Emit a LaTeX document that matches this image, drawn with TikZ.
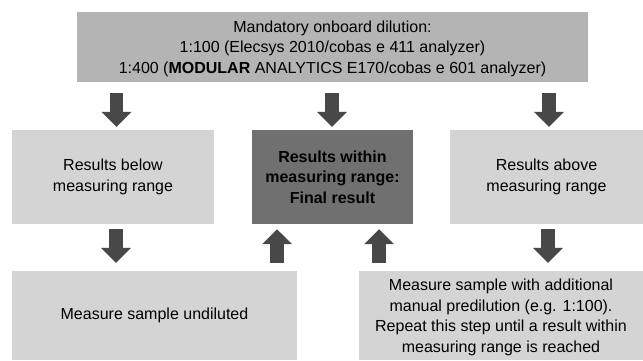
\documentclass[tikz,border=0pt]{standalone}
\usepackage{fontspec}
\setmainfont{Liberation Sans}
\usetikzlibrary{arrows.meta}
\definecolor{topgray}{HTML}{B4B4B4}
\definecolor{lightbox}{HTML}{D4D4D4}
\definecolor{darkbox}{HTML}{707070}
\definecolor{arrowgray}{HTML}{484848}
\begin{document}
\begin{tikzpicture}[x=1pt,y=-1pt,
  box/.style={fill=lightbox, draw=none, align=center, inner sep=0pt,
    font=\fontsize{16}{20.5}\selectfont, text=black},
  fat/.style={draw=arrowgray, line width=13.5pt,
    -{Triangle[width=29pt,length=15pt]}}]
\useasboundingbox (0,0) rectangle (643,360);
\fill[white] (0,0) rectangle (643,360);
% boxes
\node[box, fill=topgray, minimum width=511pt, minimum height=70pt, text depth=0pt] (top) at (332.5,47)
  {Mandatory onboard dilution:\\1:100 (Elecsys 2010/cobas e 411 analyzer)\\1:400 (\textbf{MODULAR} ANALYTICS E170/cobas e 601 analyzer)};
\node[box, minimum width=202pt, minimum height=94pt] (below) at (113,177)
  {Results below\\measuring range};
\node[box, fill=darkbox, minimum width=161pt, minimum height=94pt] (within) at (332.5,177)
  {\bfseries Results within\\\bfseries measuring range:\\\bfseries Final result};
\node[box, minimum width=193pt, minimum height=94pt] (above) at (546.5,177)
  {Results above\\measuring range};
\node[box, minimum width=285pt, minimum height=89pt] (undil) at (154.5,315.5)
  {Measure sample undiluted};
\node[box, minimum width=284pt, minimum height=89pt, text depth=0pt] (predil) at (501,315.5)
  {Measure sample with additional\\manual predilution (e.g. 1:100).\\Repeat this step until a result within\\measuring range is reached};
% arrow x positions
\coordinate (c1) at (116.5,0);
\coordinate (c2) at (332,0);
\coordinate (c3) at (549,0);
\coordinate (c4) at (116,0);
\coordinate (c5) at (277,0);
\coordinate (c6) at (379,0);
\coordinate (c7) at (548,0);
% connectors
\draw[fat, shorten <=11pt, shorten >=3pt] (top.south -| c1) -- (below.north -| c1);
\draw[fat, shorten <=11pt, shorten >=3pt] (top.south -| c2) -- (within.north -| c2);
\draw[fat, shorten <=11pt, shorten >=3pt] (top.south -| c3) -- (above.north -| c3);
\draw[fat, shorten <=5pt, shorten >=8pt] (below.south -| c4) -- (undil.north -| c4);
\draw[fat, shorten <=8pt, shorten >=5pt] (undil.north -| c5) -- (within.south -| c5);
\draw[fat, shorten <=8pt, shorten >=5pt] (predil.north -| c6) -- (within.south -| c6);
\draw[fat, shorten <=5pt, shorten >=8pt] (above.south -| c7) -- (predil.north -| c7);
\end{tikzpicture}
\end{document}
